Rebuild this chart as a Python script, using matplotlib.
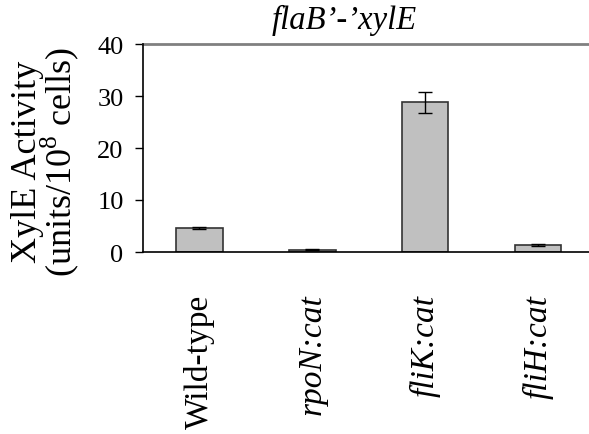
import matplotlib
matplotlib.use("Agg")
import matplotlib.pyplot as plt

strains = ["Wild-type", "rpoN:cat", "fliK:cat", "fliH:cat"]
italic = [False, True, True, True]
activity = [4.6, 0.4, 28.8, 1.3]
errors = [0.2, 0.1, 2.0, 0.2]
yticks = [0, 10, 20, 30, 40]

plt.rcParams["font.family"] = ["Liberation Serif", "DejaVu Serif"]
plt.rcParams["mathtext.fontset"] = "custom"
plt.rcParams["mathtext.rm"] = "Liberation Serif"

fig = plt.figure(figsize=(5.89, 4.35), dpi=100)
ax = fig.add_axes([143 / 589, 1 - 253 / 435, (589 - 143) / 589, 208 / 435])

x = range(len(strains))
ax.bar(x, activity, width=0.41, color="#c0c0c0", edgecolor="#333333",
       linewidth=1.2, yerr=errors, capsize=5,
       error_kw=dict(ecolor="black", elinewidth=1, capthick=1))

ax.set_ylim(0, 40)
ax.set_xlim(-0.5, 3.45)
ax.set_yticks(yticks)
ax.tick_params(axis="y", labelsize=19, length=6, width=1, pad=8)
ax.tick_params(axis="x", length=0, pad=30)
ax.set_xticks(list(x))
ax.set_xticklabels(strains, rotation=90, fontsize=24)
for lab, it in zip(ax.get_xticklabels(), italic):
    if it:
        lab.set_style("italic")

ax.axhline(40, color="#808080", linewidth=2, clip_on=False)
ax.spines["top"].set_visible(False)
ax.spines["right"].set_visible(False)
ax.spines["bottom"].set_linewidth(1.2)
ax.spines["left"].set_linewidth(1.2)

ax.set_ylabel("XylE Activity\n(units/10$^{8}$ cells)", fontsize=26,
              linespacing=0.85)
ax.yaxis.set_label_coords(-0.138, 0.44)
fig.text(344 / 589, 1 - 20 / 435, "flaB\u2019-\u2019xylE", fontsize=23.5,
         style="italic", ha="center", va="center")

fig.savefig("out.png", dpi=100)
